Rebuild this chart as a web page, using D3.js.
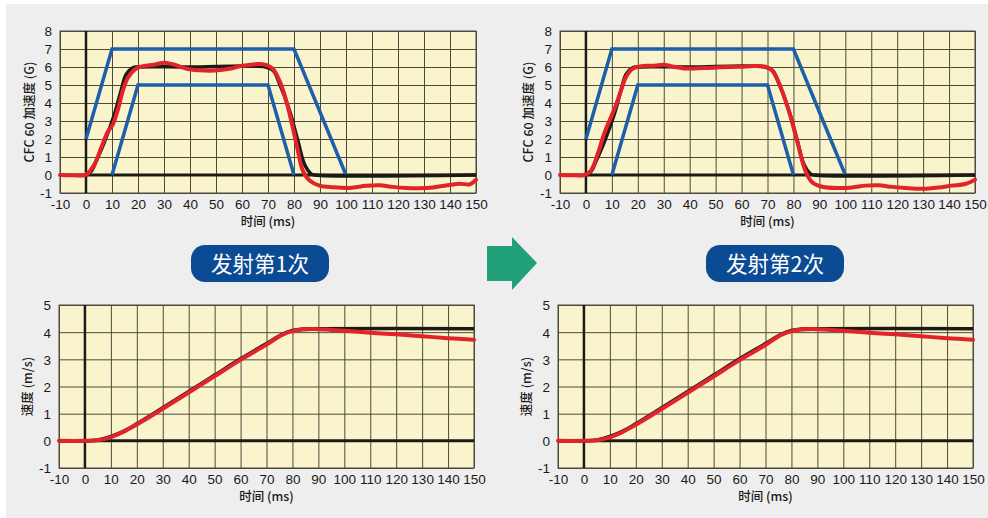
<!DOCTYPE html>
<html>
<head>
<meta charset="utf-8">
<script src="https://cdn.jsdelivr.net/npm/d3@7"></script>
<style>
  body { margin: 0; background: #fff; }
  svg { display: block; font-family: "Noto Sans CJK SC", "Noto Sans", sans-serif; }
  .grid .tick line { stroke: #4d4a3c; stroke-width: 1; }
  .grid .domain { display: none; }
  .grid .tick text { fill: #1a1a1a; font-size: 13.5px; font-weight: 500; }
  .axis-label { fill: #1a1a1a; font-size: 12.5px; font-weight: 500; }
</style>
</head>
<body>
<svg id="chart" width="988" height="518"></svg>
<script>
// ---- data ----
const timeTicks = [-10, 0, 10, 20, 30, 40, 50, 60, 70, 80, 90, 100, 110, 120, 130, 140, 150];
const accelTicks = [-1, 0, 1, 2, 3, 4, 5, 6, 7, 8];
const velTicks = [-1, 0, 1, 2, 3, 4, 5];

// corridor limits (ms, G)
const corridorUpper = [[0, 2], [10, 7], [80, 7], [100, 0]];
const corridorLower = [[10, 0], [20, 5], [70, 5], [80, 0]];

// nominal pulse (black)
const accelNominal = [[0, 0], [2, 0.2], [4, 0.8], [7, 1.8], [11, 3.4], [13.5, 4.7], [15.5, 5.6], [18, 5.95],
  [20, 6.0], [40, 6.0], [69, 6.0], [72, 5.8], [74.5, 5.05], [78.3, 3.57], [81.5, 1.9], [84, 0.61],
  [86.6, 0.06], [88, 0], [150, 0]];

// measured pulse, shot 1 (red)
const accelShot1 = [[-10, 0], [-5, -0.02], [0, 0.02], [3.3, 0.6], [5.8, 1.5], [8.4, 2.4], [10.3, 2.8],
  [12.2, 3.6], [14.2, 4.7], [16.1, 5.4], [18.7, 5.85], [21.2, 6.02], [26.3, 6.13], [30.2, 6.24], [34, 6.13],
  [39.2, 5.89], [45.6, 5.8], [49.4, 5.8], [55.8, 5.92], [59, 6.04], [63.5, 6.13], [67, 6.16], [69.5, 6.1],
  [71.9, 5.89], [74.4, 5.24], [77, 4.13], [79.5, 2.65], [81.5, 1.35], [83.4, 0.24], [86, -0.31],
  [89.8, -0.59], [95, -0.68], [101.4, -0.72], [107.8, -0.6], [112.9, -0.57], [118, -0.66], [123.2, -0.72],
  [128.3, -0.73], [133.4, -0.69], [139.8, -0.56], [143.7, -0.48], [147.6, -0.52], [150, -0.26]];

// measured pulse, shot 2 (red)
const accelShot2 = [[-10, 0], [-4, -0.02], [-0.7, 0], [1.9, 0.24], [4.5, 1.15], [7, 2.28], [9.6, 3.2],
  [11.5, 3.85], [13.5, 4.69], [15.4, 5.43], [17.9, 5.89], [21.2, 6.05], [26.3, 6.07], [30.1, 6.12],
  [32.7, 6.05], [37.8, 5.92], [45.5, 5.94], [51.9, 5.98], [59.6, 6.02], [64.7, 6.05], [69.2, 6.02],
  [71.8, 5.8], [74.3, 5.15], [78.2, 3.57], [81.4, 1.9], [84.6, 0.24], [87.2, -0.4], [91.1, -0.65],
  [97.5, -0.72], [102.6, -0.69], [107.8, -0.59], [112.8, -0.57], [118, -0.66], [123.1, -0.72],
  [129.5, -0.77], [135.9, -0.7], [141, -0.59], [146.2, -0.5], [150, -0.26]];

// velocity (m/s)
const velNominal = [[-10, 0], [0, 0], [5, 0.03], [10, 0.16], [15, 0.36], [20, 0.63], [30, 1.22], [40, 1.82],
  [50, 2.42], [60, 3.02], [70, 3.58], [76, 3.92], [80, 4.06], [84, 4.12], [90, 4.13], [150, 4.13]];
const velShot1 = [[-10, 0], [0, 0], [5, 0.02], [10, 0.14], [15, 0.34], [20, 0.6], [30, 1.18], [40, 1.78],
  [50, 2.38], [60, 2.98], [70, 3.54], [76, 3.9], [80, 4.04], [84, 4.1], [88, 4.12], [95, 4.08], [100, 4.05],
  [110, 3.98], [120, 3.92], [130, 3.85], [140, 3.78], [150, 3.72]];
const velShot2 = [[-10, 0], [0, 0], [5, 0.02], [10, 0.13], [15, 0.33], [20, 0.59], [30, 1.17], [40, 1.77],
  [50, 2.37], [60, 2.97], [70, 3.53], [76, 3.9], [80, 4.04], [84, 4.1], [88, 4.12], [95, 4.08], [100, 4.05],
  [110, 3.98], [120, 3.92], [130, 3.85], [140, 3.78], [150, 3.72]];

const shotLabels = ["发射第1次", "发射第2次"];

// ---- drawing ----
const svg = d3.select("#chart");

svg.append("rect")
  .attr("x", 6).attr("y", 4)
  .attr("width", 982).attr("height", 514)
  .attr("fill", "#eeeeee");

const colors = { blue: "#1d5fa8", red: "#e2232a", black: "#1b1a17", fill: "#f9f4cc" };

function drawPanel(p) {
  const w = p.x1 - p.x0, h = p.y1 - p.y0;
  const x = d3.scaleLinear().domain([-10, 150]).range([0, w]);
  const y = d3.scaleLinear().domain(p.domain).range([h, 0]);

  const g = svg.append("g").attr("transform", `translate(${p.x0},${p.y0})`);

  g.append("rect")
    .attr("width", w).attr("height", h)
    .attr("fill", colors.fill);

  g.append("g").attr("class", "grid")
    .attr("transform", `translate(0,${h})`)
    .call(d3.axisBottom(x).tickValues(timeTicks).tickFormat(d => String(d))
      .tickSizeInner(-h).tickSizeOuter(0).tickPadding(5))
    .selectAll(".tick text").attr("dy", "0.85em");

  g.append("g").attr("class", "grid")
    .call(d3.axisLeft(y).tickValues(p.ticks).tickFormat(d => String(d))
      .tickSizeInner(-w).tickSizeOuter(0).tickPadding(8))
    .selectAll(".tick text").attr("dy", "0.36em");

  g.append("rect")
    .attr("width", w).attr("height", h)
    .attr("fill", "none")
    .attr("stroke", "#4d4a3c").attr("stroke-width", 1);

  // zero axes
  g.append("line")
    .attr("x1", 0).attr("x2", w)
    .attr("y1", y(0)).attr("y2", y(0))
    .attr("stroke", colors.black).attr("stroke-width", 3);
  g.append("line")
    .attr("x1", x(0)).attr("x2", x(0))
    .attr("y1", 0).attr("y2", h)
    .attr("stroke", colors.black).attr("stroke-width", 2.5);

  const straight = d3.line().x(d => x(d[0])).y(d => y(d[1]));
  const smooth = d3.line().x(d => x(d[0])).y(d => y(d[1])).curve(d3.curveCatmullRom.alpha(0.5));

  (p.corridors || []).forEach(c => {
    g.append("path").datum(c)
      .attr("d", straight)
      .attr("fill", "none")
      .attr("stroke", colors.blue).attr("stroke-width", 3.5)
      .attr("stroke-linejoin", "miter");
  });

  g.append("path").datum(p.nominal)
    .attr("d", smooth)
    .attr("fill", "none")
    .attr("stroke", colors.black).attr("stroke-width", 3.5);

  g.append("path").datum(p.measured)
    .attr("d", smooth)
    .attr("fill", "none")
    .attr("stroke", colors.red).attr("stroke-width", 4)
    .attr("stroke-linecap", "round");

  g.append("text")
    .attr("class", "axis-label")
    .attr("x", w / 2).attr("y", h + 33)
    .attr("text-anchor", "middle")
    .text("时间 (ms)");

  g.append("text")
    .attr("class", "axis-label")
    .attr("transform", `translate(${p.titleX - p.x0},${h / 2})rotate(-90)`)
    .attr("dy", "0.35em")
    .attr("text-anchor", "middle")
    .text(p.yTitle);
}

const panels = [
  { x0: 60, x1: 476, y0: 31, y1: 193, domain: [-1, 8], ticks: accelTicks, titleX: 30,
    yTitle: "CFC 60 加速度 (G)", corridors: [corridorUpper, corridorLower], nominal: accelNominal, measured: accelShot1 },
  { x0: 560, x1: 975, y0: 31, y1: 193, domain: [-1, 8], ticks: accelTicks, titleX: 529,
    yTitle: "CFC 60 加速度 (G)", corridors: [corridorUpper, corridorLower], nominal: accelNominal, measured: accelShot2 },
  { x0: 59, x1: 474, y0: 305, y1: 468, domain: [-1, 5], ticks: velTicks, titleX: 28,
    yTitle: "速度 (m/s)", nominal: velNominal, measured: velShot1 },
  { x0: 558, x1: 973, y0: 305, y1: 468, domain: [-1, 5], ticks: velTicks, titleX: 527,
    yTitle: "速度 (m/s)", nominal: velNominal, measured: velShot2 }
];
panels.forEach(drawPanel);

// shot badges
[{ cx: 260, label: shotLabels[0] }, { cx: 775, label: shotLabels[1] }].forEach(b => {
  svg.append("rect")
    .attr("x", b.cx - 69).attr("y", 245)
    .attr("width", 138).attr("height", 37)
    .attr("rx", 14)
    .attr("fill", "#0b4b93");
  svg.append("text")
    .attr("x", b.cx).attr("y", 264)
    .attr("dy", "0.36em")
    .attr("text-anchor", "middle")
    .attr("fill", "#fff")
    .attr("font-size", 21.5)
    .text(b.label);
});

// arrow between shots
svg.append("path")
  .attr("d", d3.line()([[487, 246], [512, 246], [512, 237], [537, 263], [512, 290], [512, 281], [487, 281]]) + "Z")
  .attr("fill", "#22a07a");
</script>
</body>
</html>
